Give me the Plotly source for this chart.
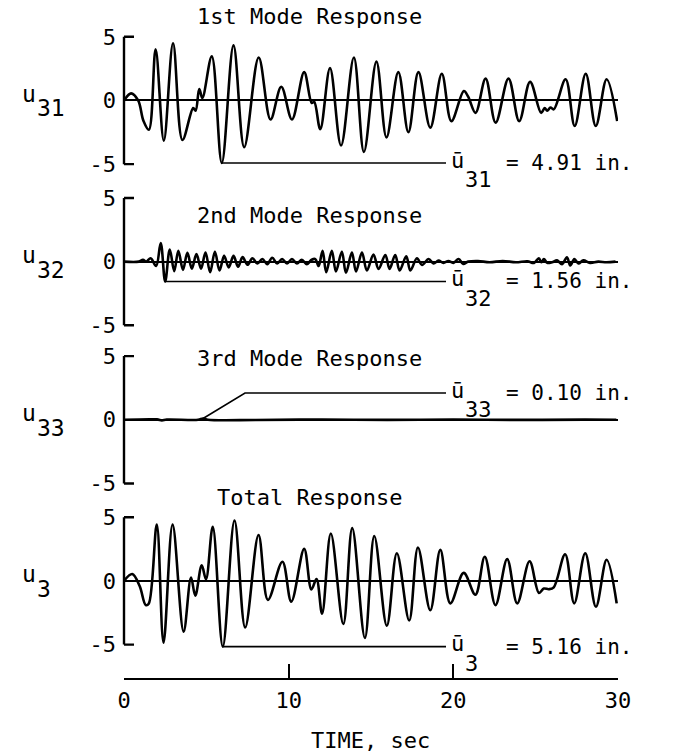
import plotly.graph_objects as go

# ---------------- data ----------------
# 1st mode response u31 (in.)
T1 = [0, 0.43, 0.86, 1.18, 1.51, 1.92, 2.42, 2.98, 3.55, 4.2, 4.35, 4.57, 4.76, 5.33,
      5.94, 6.65, 7.3, 8.18, 8.9, 9.55, 10.2, 10.94, 11.4, 11.55, 11.92, 12.51, 13.18,
      13.96, 14.57, 15.33, 15.94, 16.66, 17.27, 17.88, 18.6, 19.3, 19.88, 20.64, 20.9,
      21.35, 21.96, 22.57, 23.35, 24.0, 24.66, 25.33, 25.55, 25.7, 25.9, 26.1, 26.82,
      27.37, 28.04, 28.65, 29.31, 29.95]
U31 = [0, 0.56, 0.0, -1.6, -2.3, 4.02, -3.15, 4.49, -3.1, -0.6, -0.8, 0.9, 0.2, 3.46,
       -4.91, 4.33, -3.67, 3.38, -1.49, 1.08, -1.49, 2.23, -0.2, -0.1, -2.26, 2.54, -3.54,
       3.38, -4.05, 3.05, -2.9, 2.23, -2.5, 2.23, -2.13, 2.1, -1.62, 0.74, 0.3,
       -0.97, 1.72, -1.74, 1.72, -1.62, 1.46, -0.97, -0.6, -0.8, -0.55, -0.7, 1.67,
       -2.0, 2.1, -2.0, 1.67, -1.62]

# 2nd mode response u32 (in.)
T2 = [0, 0.9, 1.15, 1.35, 1.62, 1.95, 2.23, 2.5, 2.78, 3.05, 3.3, 3.58, 3.85, 4.12,
      4.4, 4.68, 4.95, 5.23, 5.52, 5.8, 6.08, 6.36, 6.65, 6.93, 7.2, 7.5, 7.8, 8.1,
      8.4, 8.7, 9.0, 9.3, 9.6, 9.9, 10.2, 10.5, 10.8, 11.1, 11.4, 11.62, 11.82, 12.06,
      12.28, 12.62, 12.87, 13.23, 13.48, 13.84, 14.09, 14.45, 14.75, 15.15, 15.46,
      15.87, 16.13, 16.47, 16.74, 17.14, 17.39, 17.79, 18.1, 18.5, 18.8, 19.1, 19.4,
      19.7, 20.0, 20.32, 20.6, 20.9, 21.5, 22.2, 23.0, 23.8, 24.5, 24.9, 25.19, 25.35,
      25.5, 25.7, 26.0, 26.3, 26.6, 26.9, 27.1, 27.35, 27.6, 27.9, 28.3, 28.8, 29.3, 29.85]
U32 = [0, 0.0, 0.15, 0.0, 0.26, -0.35, 1.45, -1.56, 0.95, -0.75, 0.85, -0.65, 0.7, -0.55,
       0.6, -0.55, 0.72, -0.83, 0.78, -0.7, 0.45, -0.45, 0.45, -0.4, 0.35, -0.25, 0.26, -0.15,
       0.2, -0.2, 0.3, -0.15, 0.2, -0.15, 0.2, -0.15, 0.15, -0.2, 0.15, 0.2, -0.35, 0.85,
       -0.83, 0.85, -0.78, 0.78, -0.88, 0.72, -0.78, 0.72, -0.7, 0.55, -0.57,
       0.52, -0.57, 0.52, -0.7, 0.41, -0.7, 0.26, -0.26, 0.2, -0.15, 0.08, -0.1,
       0.05, -0.1, 0.2, -0.18, 0.0, 0.05, -0.05, 0.05, -0.05, 0.03, -0.1, 0.26, -0.05,
       0.2, -0.1, -0.05, 0.1, -0.2, 0.34, -0.31, 0.2, -0.15, 0.1, -0.1, 0.0, -0.05, 0.0]

# 3rd mode response u33 (in.)
T3 = [0, 2.0, 2.3, 2.6, 4.5, 4.8, 5.1, 8.0, 12.0, 16.0, 20.0, 24.0, 28.0, 29.9]
U33 = [0, 0.03, -0.05, 0.02, 0.0, 0.10, 0.0, -0.02, 0.02, -0.01, 0.01, -0.01, 0.01, 0]

# total response u3 (in.)
T4 = [0, 0.5, 0.95, 1.32, 1.5, 1.99, 2.4, 2.95, 3.62, 4.07, 4.33, 4.72, 4.98, 5.39,
      6.0, 6.71, 7.36, 8.17, 8.74, 9.62, 10.16, 10.94, 11.38, 11.69, 12.03, 12.56,
      13.32, 13.86, 14.63, 15.2, 15.96, 16.57, 17.32, 17.85, 18.6, 19.21, 19.82, 20.63,
      21.34, 21.91, 22.56, 23.27, 23.88, 24.63, 25.2, 25.5, 25.8, 26.1, 26.79, 27.34,
      28.01, 28.66, 29.31, 29.92]
U3 = [0, 0.54, -0.4, -1.9, -1.8, 4.42, -4.85, 4.42, -3.98, 0.27, -1.16, 1.22, 0.14, 4.26,
      -5.16, 4.75, -3.66, 3.61, -1.49, 1.5, -1.63, 2.52, -0.67, 0.14, -2.57, 3.72,
      -3.38, 4.15, -4.47, 3.53, -3.52, 2.17, -3.11, 2.63, -2.3, 2.44, -1.76, 0.63,
      -1.08, 1.9, -1.9, 1.71, -1.76, 1.54, -0.94, -0.6, -0.65, -0.5, 2.09, -1.76,
      2.17, -2.03, 1.66, -1.76]

TIME_TICKS = [0, 10, 20, 30]
Y_TICKS = [-5, 0, 5]
Y_TICK_TEXT = ["-5", "0", "5"]
TITLES = ["1st Mode Response", "2nd Mode Response", "3rd Mode Response", "Total Response"]
SUBS = ["31", "32", "33", "3"]
SERIES = [(T1, U31), (T2, U32), (T3, U33), (T4, U3)]

# ---------------- layout helpers (pixels) ----------------
W, H = 678, 756
L, R = 124, 60
PW = W - L - R
XMAX = 30.0
FONT = "DejaVu Sans Mono"
FS = 22


def px2x(px):
    return (px - L) / PW


def py2y(py):
    return 1 - py / H


def px2t(px):
    return (px - L) / PW * XMAX


CENTERS = [99, 261, 420, 582]
UNIT = 12.8
HALF = 5.8
LEADER_END = px2t(446)
TITLE_PY = [15, 215, 358, 498]

fig = go.Figure()
layout = dict(
    width=W, height=H, margin=dict(l=L, r=R, t=0, b=0),
    paper_bgcolor="white", plot_bgcolor="white", showlegend=False,
    font=dict(family=FONT, size=FS, color="black"),
    xaxis=dict(domain=[0, 1], range=[0, XMAX], anchor="free", position=py2y(681),
               showline=True, linecolor="black", linewidth=2.4,
               ticks="inside", ticklen=14, tickwidth=2.4, tickcolor="black",
               tickvals=TIME_TICKS, tickfont=dict(family=FONT, size=FS),
               ticklabelstandoff=1,
               showgrid=False, zeroline=False),
)
shapes = []
annotations = []

for i, ((t, u), title, sub) in enumerate(zip(SERIES, TITLES, SUBS)):
    k = "" if i == 0 else str(i + 1)
    yname = "y" + k
    c = CENTERS[i]
    layout["yaxis" + k] = dict(
        domain=[py2y(c + HALF * UNIT), py2y(c - HALF * UNIT)],
        range=[-HALF, HALF], anchor="x",
        tickvals=Y_TICKS, ticktext=Y_TICK_TEXT, ticks="",
        tickfont=dict(family=FONT, size=FS), ticklabelstandoff=7,
        showgrid=False, showline=False,
        zeroline=True, zerolinecolor="black", zerolinewidth=1.5,
    )
    fig.add_trace(go.Scatter(
        x=t, y=u, mode="lines", xaxis="x", yaxis=yname,
        line=dict(color="black", width=2.6, shape="spline", smoothing=1.0),
        hoverinfo="skip"))

    # bracket-style y axis
    shapes.append(dict(type="line", xref="paper", yref=yname, x0=0, x1=0, y0=-5, y1=5,
                       line=dict(color="black", width=2.4)))
    for yv in (-5, 5):
        shapes.append(dict(type="line", xref="paper", yref=yname, x0=0, x1=px2x(L + 10),
                           y0=yv, y1=yv, line=dict(color="black", width=2.4)))

    # peak value and leader line
    j = max(range(len(u)), key=lambda n: abs(u[n]))
    tp, up = t[j], u[j]
    peak = abs(up)
    if i == 2:
        ly = 2.1
        shapes.append(dict(type="path", xref="x", yref=yname,
                           path=f"M {tp},{up} L {px2t(245)},{ly} L {LEADER_END},{ly}",
                           line=dict(color="black", width=1.6)))
    else:
        ly = up
        shapes.append(dict(type="line", xref="x", yref=yname, x0=tp, x1=LEADER_END,
                           y0=ly, y1=ly, line=dict(color="black", width=1.6)))
    line_py = c - ly * UNIT
    annotations += [
        dict(xref="paper", yref="paper", x=px2x(449), y=py2y(line_py - 3), text="ū",
             showarrow=False, xanchor="left", yanchor="middle"),
        dict(xref="paper", yref="paper", x=px2x(463), y=py2y(line_py + 17), text=sub,
             showarrow=False, xanchor="left", yanchor="middle"),
        dict(xref="paper", yref="paper", x=px2x(504), y=py2y(line_py), text=f"= {peak:.2f} in.",
             showarrow=False, xanchor="left", yanchor="middle",
             font=dict(family=FONT, size=21)),
    ]

    # panel title
    annotations.append(dict(xref="paper", yref="paper", x=px2x(309), y=py2y(TITLE_PY[i]),
                            text=title, showarrow=False, xanchor="center", yanchor="middle"))
    # y label u_3x
    annotations += [
        dict(xref="paper", yref="paper", x=px2x(20), y=py2y(c - 7), text="u",
             showarrow=False, xanchor="left", yanchor="middle",
             font=dict(family=FONT, size=23)),
        dict(xref="paper", yref="paper", x=px2x(35), y=py2y(c + 8), text=sub,
             showarrow=False, xanchor="left", yanchor="middle",
             font=dict(family=FONT, size=23)),
    ]

annotations.append(dict(xref="paper", yref="paper", x=px2x(370), y=py2y(742),
                        text="TIME, sec", showarrow=False, xanchor="center",
                        yanchor="middle"))

layout["shapes"] = shapes
layout["annotations"] = annotations
fig.update_layout(**layout)
fig.write_html("out.html", config={"displayModeBar": False},
               post_script="document.body.style.margin='0px';")
